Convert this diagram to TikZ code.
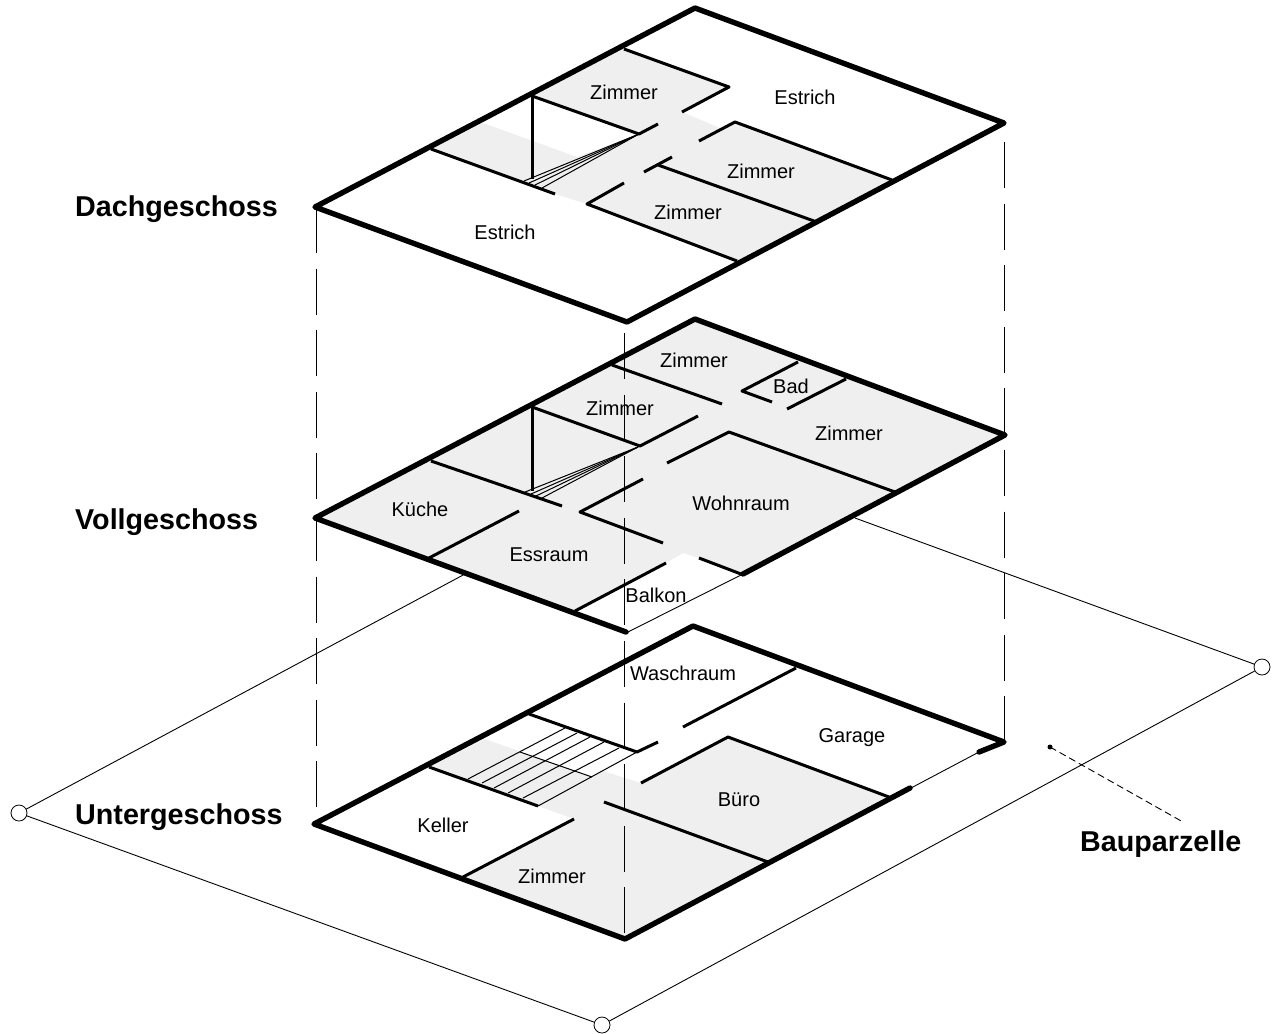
\documentclass[tikz,border=0pt]{standalone}
\usepackage{fontspec}
\setmainfont{Liberation Sans}
\definecolor{raumgrau}{HTML}{EFEFEF}
\tikzset{
  aussen/.style={line width=5.4pt,line cap=round,line join=round},
  wand/.style={line width=3pt,line join=round},
  duenn/.style={line width=0.9pt},
  stufe/.style={line width=1pt},
  lot/.style={line width=0.9pt,dash pattern=on 46pt off 15.6pt},
  raum/.style={fill=raumgrau,draw=none},
  ecke/.style={draw,circle,fill=white,minimum size=16pt,inner sep=0pt,line width=0.8pt},
  raumname/.style={inner sep=0pt,font=\fontsize{20}{24}\selectfont},
  geschoss/.style={inner sep=0pt,anchor=west,font=\fontsize{28.7}{34}\selectfont\bfseries}
}

\begin{document}
\begin{tikzpicture}[x=1pt,y=-1pt]
    \useasboundingbox (0,0) rectangle (1276,1033);

    % grey rooms
    \fill[raum] (624,49) -- (729,87) -- (682,112) -- (722,129) -- (735,122) -- (892,180) -- (737,261) -- (587,204) -- (555,194) -- (431,149) -- (483,123) -- (577,157) -- (639,134) -- (532,96) -- cycle;
    \fill[raum] (315,518) -- (695,319) -- (1005,435) -- (741,574) -- (699,558) -- (683,553) -- (666,563) -- (575,611) -- cycle;
    \fill[raum] (429,767) -- (485,739) -- (592,777) -- (603,771) -- (641,783) -- (728,737) -- (889,797) -- (768,862) -- (625,939) -- (463,877) -- (574,819) -- (538,806) -- cycle;

    % parcel
    \node[ecke] (pl) at (19,813) {};
    \node[ecke] (pr) at (1262,667) {};
    \node[ecke] (pb) at (602,1025) {};
    \coordinate (pa) at (465,574);
    \coordinate (pc) at (855,518);
    \draw[duenn] (pl) -- (pa);
    \draw[duenn] (pr) -- (pc);
    \draw[duenn] (pl) -- (pb) -- (pr);

    % plumb lines
    \draw[lot] (316,207) -- (316,808);
    \draw[lot] (1004,142) -- (1004,743);
    \draw[lot] (624,333) -- (624,935);

    % Dachgeschoss
    \draw[aussen] (315,207) -- (695,8) -- (1004,123) -- (627,322) -- cycle;
    \draw[wand] (624,49) -- (729,87) -- (682,112);
    \draw[wand] (532,96) -- (639,134) -- (658,124);
    \draw[wand] (532,96) -- (532,179);
    \draw[wand] (431,149) -- (555,194);
    \draw[wand] (699,141) -- (735,122) -- (892,180);
    \draw[wand] (644,172) -- (672,157);
    \draw[wand] (658,165) -- (814,221);
    \draw[wand] (624,183) -- (587,204) -- (737,261);
    \foreach \sx/\sy in {524/181,529/183,535/185,542/188}
      \draw[stufe] (639,134) -- (\sx,\sy);

    % Vollgeschoss
    \draw[aussen] (626,632) -- (315,518) -- (695,319) -- (1005,435) -- (743,574);
    \draw[wand] (612,365) -- (722,404);
    \draw[wand] (798,362) -- (742,391) -- (772,402);
    \draw[wand] (846,379) -- (787,409);
    \draw[wand] (532,407) -- (640,446) -- (698,416);
    \draw[wand] (532,407) -- (532,491);
    \draw[wand] (431,461) -- (562,506);
    \draw[wand] (667,463) -- (729,432) -- (895,492);
    \draw[wand] (643,479) -- (580,512) -- (663,543);
    \draw[wand] (519,511) -- (429,558);
    \draw[wand] (575,611) -- (666,563);
    \draw[wand] (699,558) -- (741,574);
    \draw[duenn] (626,633) -- (741,575);
    \foreach \sx/\sy in {525/492,531/494,536/496,542/498}
      \draw[stufe] (638,447) -- (\sx,\sy);

    % Untergeschoss
    \draw[aussen] (979,752) -- (1004,742) -- (693,626) -- (314,824) -- (625,939) -- (910,788);
    \draw[wand] (529,714) -- (637,752) -- (658,742);
    \draw[wand] (796,668) -- (683,727);
    \draw[wand] (641,783) -- (728,737) -- (889,797);
    \draw[wand] (429,767) -- (538,806);
    \draw[wand] (574,819) -- (463,877);
    \draw[wand] (604,802) -- (768,862);
    \draw[duenn] (979,752) -- (911,788);
    \foreach \ox/\oy/\ux/\uy in {565/728/468/779,577/733/482/783,590/737/494/788,604/742/508/793,619/748/523/798,637/752/538/806}
      \draw[stufe] (\ox,\oy) -- (\ux,\uy);
    \draw[stufe] (520,752) -- (592,777);

    % room names
    \node[raumname] (dz1) at (624,92) {Zimmer};
    \node[raumname] (de1) at (805,97) {Estrich};
    \node[raumname] (dz2) at (761,171) {Zimmer};
    \node[raumname] (dz3) at (688,212) {Zimmer};
    \node[raumname] (de2) at (505,232) {Estrich};
    \node[raumname] (vz1) at (694,360) {Zimmer};
    \node[raumname] (vb) at (791,386) {Bad};
    \node[raumname] (vz2) at (620,408) {Zimmer};
    \node[raumname] (vz3) at (849,433) {Zimmer};
    \node[raumname] (vw) at (741,503) {Wohnraum};
    \node[raumname] (vk) at (420,509) {Küche};
    \node[raumname] (ve) at (549,555) {Essraum};
    \node[raumname] (vbk) at (656,595) {Balkon};
    \node[raumname] (uw) at (683,673) {Waschraum};
    \node[raumname] (ug) at (852,738) {Garage};
    \node[raumname] (ub) at (739,800) {Büro};
    \node[raumname] (uk) at (443,825) {Keller};
    \node[raumname] (uz) at (552,876) {Zimmer};

    % floors
    \node[geschoss] (dach) at (75,209) {Dachgeschoss};
    \node[geschoss] (voll) at (75,522) {Vollgeschoss};
    \node[geschoss] (unter) at (75,817) {Untergeschoss};
    \node[geschoss] (bau) at (1080,844) {Bauparzelle};

    % leader
    \fill (1050,747) circle (2.5pt);
    \coordinate (bz) at (1050,747);
    \coordinate (be) at (1183,822);
    \draw[duenn,dash pattern=on 7pt off 4pt] (bz) -- (be);

\end{tikzpicture}
\end{document}
